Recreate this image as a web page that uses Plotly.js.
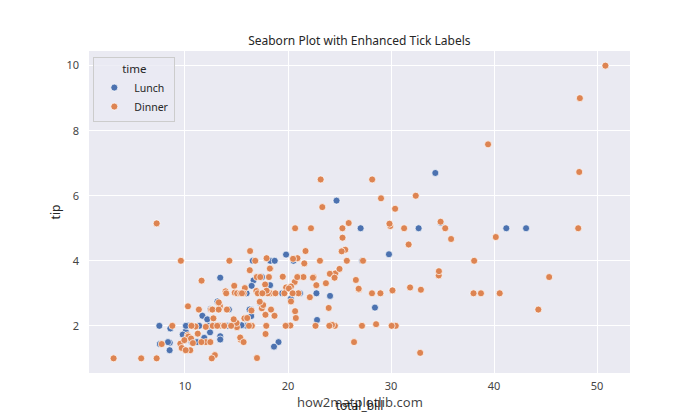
<!DOCTYPE html>
<html>
<head>
<meta charset="utf-8">
<script src="https://cdn.plot.ly/plotly-3.0.1.min.js"></script>
<style>html,body{margin:0;padding:0;background:#fff;}#chart{width:700px;height:420px;}</style>
</head>
<body>
<div id="chart"></div>
<script>
// tips dataset: total_bill vs tip, split by time
const lunchBill = [27.2,22.76,17.29,19.44,16.66,10.07,32.68,15.98,34.83,13.03,18.28,24.71,21.16,
  10.65,12.43,24.08,11.69,13.42,14.26,15.95,12.48,29.8,8.52,14.52,11.38,22.82,19.08,20.27,11.17,12.26,
  18.26,8.51,10.33,14.15,16.0,13.16,17.47,34.3,41.19,27.05,16.43,8.35,18.64,11.87,9.78,7.51,
  19.81,28.44,15.48,16.58,7.56,10.34,43.11,13.0,13.51,18.71,12.74,13.0,16.4,20.53,16.47,
  12.16,13.42,8.58,15.98,13.42,16.27,10.09];
const lunchTip = [4.0,3.0,2.71,3.0,3.4,1.83,5.0,2.03,5.17,2.0,4.0,5.85,3.0,
  1.5,1.8,2.92,2.31,1.68,2.5,2.0,2.52,4.2,1.48,2.0,2.0,2.18,1.5,2.83,1.5,2.0,
  3.25,1.25,2.0,2.0,2.0,2.75,3.5,6.7,5.0,5.0,2.3,1.5,1.36,1.63,1.73,2.0,
  4.19,2.56,2.02,4.0,1.44,2.0,5.0,2.0,2.0,4.0,2.01,2.0,2.5,4.0,3.23,
  2.2,3.48,1.92,3.0,1.58,2.5,2.0];
const dinnerBill = [16.99,10.34,21.01,23.68,24.59,25.29,8.77,26.88,15.04,14.78,10.27,35.26,15.42,18.43,
  14.83,21.58,10.33,16.29,16.97,20.65,17.92,20.29,15.77,39.42,19.82,17.81,13.37,12.69,21.7,19.65,9.55,
  18.35,15.06,20.69,17.78,24.06,16.31,16.93,18.69,31.27,16.04,17.46,13.94,9.68,30.4,18.29,22.23,32.4,
  28.55,18.04,12.54,10.29,34.81,9.94,25.56,19.49,38.01,26.41,11.24,48.27,20.29,13.81,11.02,18.29,17.59,
  20.08,16.45,3.07,20.23,15.01,12.02,17.07,26.86,25.28,14.73,10.51,17.92,
  28.97,22.49,5.75,16.32,22.75,40.17,27.28,12.03,21.01,12.46,11.35,15.38,
  44.3,22.42,20.92,15.36,20.49,25.21,18.24,14.31,14.0,7.25,
  38.07,23.95,25.71,17.31,29.93,
  14.07,13.13,17.26,24.55,19.77,29.85,48.17,25.0,13.39,16.49,21.5,12.66,16.21,13.81,17.51,24.52,20.76,31.71,
  10.59,10.63,50.81,15.81,
  7.25,31.85,16.82,32.9,17.89,14.48,9.6,34.63,34.65,23.33,45.35,23.17,40.55,20.69,20.9,30.46,18.15,23.1,15.69,
  26.59,38.73,24.27,12.76,30.06,25.89,48.33,13.27,28.17,12.9,28.15,11.59,7.74,30.14,
  20.45,13.28,22.12,24.01,15.69,11.61,10.77,15.53,10.07,12.6,32.83,35.83,29.03,27.18,22.67,17.82,18.78];
const dinnerTip = [1.01,1.66,3.5,3.31,3.61,4.71,2.0,3.12,1.96,3.23,1.71,5.0,1.57,3.0,
  3.02,3.92,1.67,3.71,3.5,3.35,4.08,2.75,2.23,7.58,3.18,2.34,2.0,2.0,4.3,3.0,1.45,
  2.5,3.0,2.45,3.27,3.6,2.0,3.07,2.31,5.0,2.24,2.54,3.06,1.32,5.6,3.0,5.0,6.0,
  2.05,3.0,2.5,2.6,5.2,1.56,4.34,3.51,3.0,1.5,1.76,6.73,3.21,2.0,1.98,3.76,2.64,
  3.15,2.47,1.0,2.01,2.09,1.97,3.0,3.14,5.0,2.2,1.25,3.08,
  3.0,3.5,1.0,4.3,3.25,4.73,4.0,1.5,3.0,1.5,2.5,3.0,
  2.5,3.48,4.08,1.64,4.06,4.29,3.76,4.0,3.0,1.0,
  4.0,2.55,4.0,3.5,5.07,
  2.5,2.0,2.74,2.0,2.0,5.14,5.0,3.75,2.61,2.0,3.5,2.5,2.0,2.0,3.0,3.48,2.24,4.5,
  1.61,2.0,10.0,3.16,
  5.15,3.18,4.0,3.11,2.0,2.0,4.0,3.55,3.68,5.65,3.5,6.5,3.0,5.0,3.5,2.0,3.5,4.0,1.5,
  3.41,3.0,2.03,2.23,2.0,5.16,9.0,2.5,6.5,1.1,3.0,1.5,1.44,3.09,
  3.0,2.72,2.88,2.0,3.0,3.39,1.47,3.0,1.25,1.0,1.17,4.67,5.92,2.0,2.0,1.75,3.0];
const seriesNames = ["Lunch", "Dinner"];
const xTicks = [10, 20, 30, 40, 50];
const yTicks = [2, 4, 6, 8, 10];

const FONT = "Noto Sans, DejaVu Sans, sans-serif";
const colors = ["#4c72b0", "#dd8452"];
const mk = (c) => ({size: 7, color: c, line: {color: "#ffffff", width: 0.7}});

const traces = [
  {type: "scatter", mode: "markers", name: seriesNames[0], x: lunchBill, y: lunchTip, marker: mk(colors[0])},
  {type: "scatter", mode: "markers", name: seriesNames[1], x: dinnerBill, y: dinnerTip, marker: mk(colors[1])}
];

const layout = {
  width: 700, height: 420,
  margin: {l: 89, r: 70, t: 51, b: 47, pad: 0},
  paper_bgcolor: "#ffffff",
  plot_bgcolor: "#eaeaf2",
  font: {family: FONT, color: "#262626", size: 11},
  title: {text: "Seaborn Plot with Enhanced Tick Labels", font: {size: 12, color: "#262626"},
          x: 0.5134, xanchor: "center", y: 1 - 41/420, yanchor: "middle", yref: "container"},
  xaxis: {
    range: [0.683, 53.197], tickvals: xTicks, ticktext: xTicks.map(String),
    showgrid: true, gridcolor: "#ffffff", gridwidth: 1, zeroline: false, showline: false,
    ticks: "", ticklabelstandoff: 5, tickfont: {size: 11, color: "#444444"},
    title: {text: "total_bill", font: {size: 12, color: "#262626"}, standoff: 9}
  },
  yaxis: {
    range: [0.55, 10.45], tickvals: yTicks, ticktext: yTicks.map(String),
    showgrid: true, gridcolor: "#ffffff", gridwidth: 1, zeroline: false, showline: false,
    ticks: "", ticklabelstandoff: 9, tickfont: {size: 11, color: "#444444"},
    title: {text: "tip", font: {size: 12, color: "#262626"}, standoff: 3}
  },
  showlegend: true,
  legend: {
    x: 0.008, y: 0.981, xanchor: "left", yanchor: "top",
    bgcolor: "rgba(234,234,242,0.8)", bordercolor: "#cccccc", borderwidth: 1,
    font: {size: 10.5, color: "#262626"},
    title: {text: "time", side: "top center", font: {size: 11.5, color: "#262626"}},
    itemwidth: 30, tracegroupgap: 0
  },
  annotations: [{
    text: "how2matplotlib.com", xref: "paper", yref: "paper", x: 0.5, y: (373 - 402) / 322,
    xanchor: "center", yanchor: "middle", showarrow: false,
    font: {size: 13, color: "rgba(0,0,0,0.75)", family: FONT}
  }]
};

Plotly.newPlot("chart", traces, layout, {displayModeBar: false, staticPlot: true});
</script>
</body>
</html>
